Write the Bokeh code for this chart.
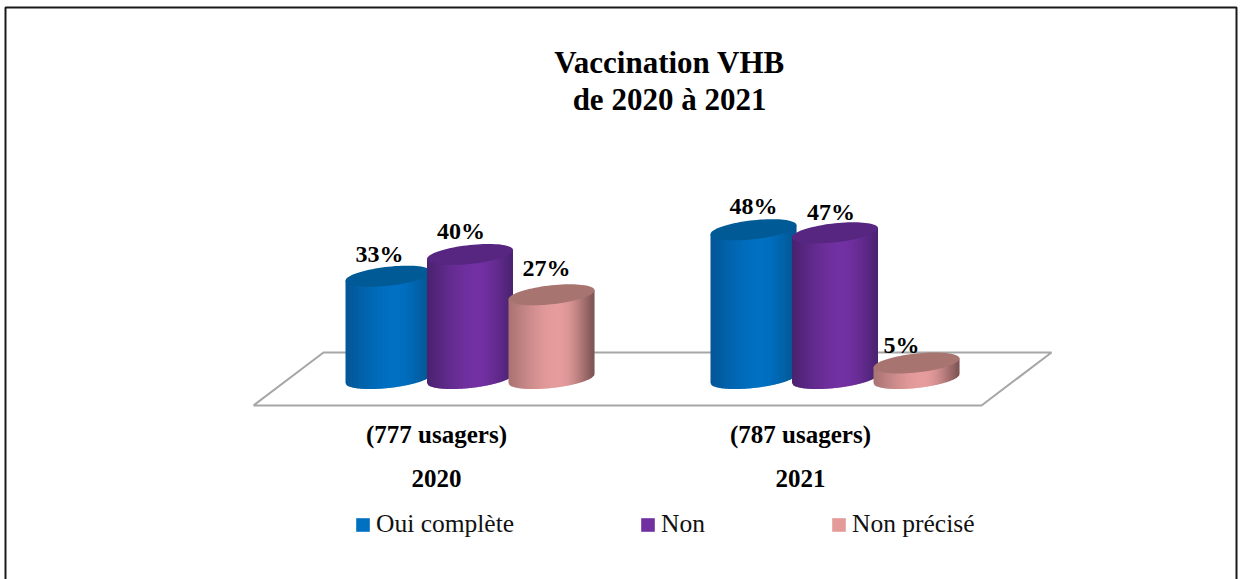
import math
from bokeh.plotting import figure
from bokeh.models import Legend, LegendItem, Range1d
from bokeh.core.properties import value
from bokeh.embed import file_html
from bokeh.resources import INLINE

# ---- data ----
years = ["2020", "2021"]
users = ["(777 usagers)", "(787 usagers)"]
series = ["Oui complète", "Non", "Non précisé"]
oui = [33, 48]
non = [40, 47]
non_precise = [27, 5]
title_lines = ["Vaccination VHB", "de 2020 à 2021"]

# ---- styles / layout ----
W, H = 1240, 579
SERIF = "Liberation Serif"
PX_PER_PCT = 3.1
BASE_PX = 378
GROUP_X = [469.5, 834.5]
BAR_DX = [-81.5, 0, 81.5]
A, B, S = 43, 9.5, 4.5
SIDE = [
    ("#045797", "#0070c2", "#03558f", "#005a96", "#0070c0"),
    ("#4a2270", "#7230a2", "#4a2270", "#562680", "#7030a0"),
    ("#aa7474", "#e69c9c", "#7c5454", "#a87470", "#e59a9a"),
]
LABEL_DX = [[-9, -9, -5], [0, -4, -15]]
LABEL_DY = [[22, 24, 27], [24, 21, 18]]


def y_of(px):
    return (BASE_PX - px) / PX_PER_PCT


def hex2rgb(h):
    return [int(h[i:i + 2], 16) for i in (1, 3, 5)]


def mix(c0, c1, t):
    a, b = hex2rgb(c0), hex2rgb(c1)
    return "#%02x%02x%02x" % tuple(round(a[i] + (b[i] - a[i]) * t) for i in range(3))


def shade(left, mid, right, u):
    peak = 0.58
    if u < peak:
        t = u / peak
        return mix(left, mid, math.sin(t * math.pi / 2) ** 1.2)
    t = (1 - u) / (1 - peak)
    return mix(right, mid, math.sin(t * math.pi / 2) ** 1.2)


def lower(dx):
    r = max(0.0, 1 - (dx / A) ** 2)
    return -S * dx / A + B * math.sqrt(r)


p = figure(width=W, height=H, x_range=Range1d(0, W), y_range=Range1d(y_of(H), y_of(0)),
           output_backend="svg", toolbar_location=None, min_border=0,
           outline_line_color=None, background_fill_color="white", border_fill_color="white")
p.xaxis.visible = False
p.yaxis.visible = False
p.grid.visible = False

# frame of the picture
p.line([5, 5, 1236, 1236], [y_of(H + 5), y_of(7), y_of(7), y_of(H + 5)],
       line_color="#1a1a1a", line_width=2)

# floor
fx = [253, 981, 1051, 323, 253]
fy = [y_of(v) for v in (405, 405, 352, 352, 405)]
p.line(fx, fy, line_color="#a6a6a6", line_width=2)

values = [oui, non, non_precise]
for g in range(len(years)):
    for s in range(len(series)):
        v = values[s][g]
        cx = GROUP_X[g] + BAR_DX[s]
        left, mid, right, top_col, _ = SIDE[s]
        xs, ys, cols = [], [], []
        n = 2 * A
        for i in range(n):
            d0 = -A + i
            e = min(d0 + 1.6, A)
            xs.append([cx + d0, cx + e, cx + e, cx + d0])
            ys.append([v + S * d0 / A / PX_PER_PCT, v + S * e / A / PX_PER_PCT,
                       y_of(BASE_PX + lower(e)), y_of(BASE_PX + lower(d0))])
            cols.append(shade(left, mid, right, (i + 0.5) / n))
        p.patches(xs, ys, fill_color=cols, line_color=None)
        tx, ty = [], []
        for k in range(80):
            t = 2 * math.pi * k / 80
            tx.append(cx + A * math.cos(t))
            ty.append(v + (B * math.sin(t) + S * math.cos(t)) / PX_PER_PCT)
        p.patch(tx, ty, fill_color=top_col, line_color=None)
        p.text([cx + LABEL_DX[g][s]], [v + LABEL_DY[g][s] / PX_PER_PCT], text=[f"{v}%"],
               text_font=value(SERIF), text_font_style="bold", text_font_size="24px",
               text_align="center", text_baseline="alphabetic", text_color="#000000")

# category labels
p.text([436, 800], [y_of(434)] * 2, text=users, text_font=value(SERIF), text_font_style="bold",
       text_font_size="25px", text_align="center", text_baseline="alphabetic", text_color="#000000")
p.text([436, 800], [y_of(478)] * 2, text=years, text_font=value(SERIF), text_font_style="bold",
       text_font_size="25px", text_align="center", text_baseline="alphabetic", text_color="#000000")

# title
p.text([669, 669], [y_of(62), y_of(99)], text=title_lines, text_font=value(SERIF),
       text_font_style="bold", text_font_size="31px", text_align="center",
       text_baseline="alphabetic", text_color="#000000")

# legend
nan = float("nan")
items = []
for s, name in enumerate(series):
    r = p.quad(left=[nan], right=[nan], top=[nan], bottom=[nan],
               fill_color=SIDE[s][4], line_color=None)
    items.append(LegendItem(label=name, renderers=[r]))
legend = Legend(items=items, orientation="horizontal", location=(354, 40),
                background_fill_alpha=0, border_line_color=None,
                label_text_font=SERIF, label_text_font_size="25.5px", label_text_color="#111111",
                glyph_width=17, glyph_height=17, spacing=125, label_standoff=5,
                padding=6, margin=0)
p.add_layout(legend, "center")

open("out.html", "w").write(file_html(p, INLINE))
